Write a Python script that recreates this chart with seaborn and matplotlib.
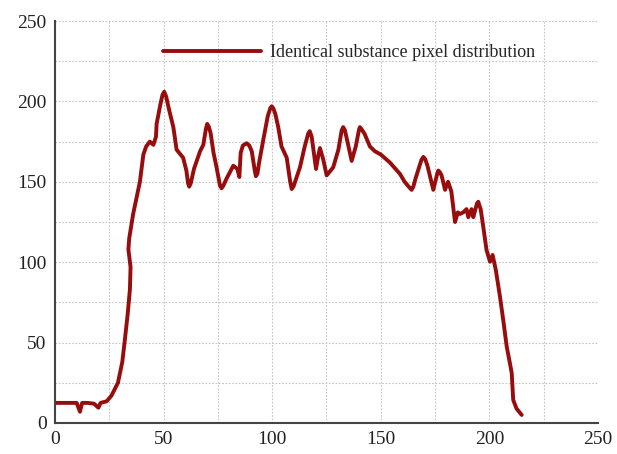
import matplotlib
matplotlib.use("Agg")
import matplotlib.pyplot as plt
import seaborn as sns
import pandas as pd
from matplotlib.ticker import MultipleLocator

x_vals = [0, 5, 10, 11.5, 12.5, 15, 18, 20, 21, 23.8, 26, 29, 31, 32.2, 33.5, 34.5, 34.8,
          33.8, 34.2, 36, 38, 39.1, 40.7, 42, 43.7, 45.3, 46.5, 46.8, 48.5, 49.5, 50.3, 51.2,
          52.5, 54.5, 56, 59, 60.5, 61.3, 61.8, 62.5, 64, 66.8, 68.3, 69.5, 70.1, 70.9, 71.7,
          73, 74.4, 76, 76.7, 77.5, 79, 82.1, 84, 84.9, 85.5, 86.5, 88.2, 89.5, 90.6, 92,
          92.5, 93.2, 94, 95.9, 98, 99.2, 99.8, 100.6, 101.5, 102.8, 104.3, 106.7, 108.3, 109,
          109.8, 112.8, 115, 116.6, 117.3, 118.2, 120.2, 121.2, 122, 123.5, 125.1, 128.1,
          130.5, 132, 132.7, 133.5, 134.5, 136.6, 138.5, 140, 140.4, 141, 142.5, 145, 147.3,
          150, 154.2, 158.8, 161, 163.5, 164.2, 165, 166, 168.7, 169.6, 170.5, 171.5, 174.2,
          176, 176.5, 177.2, 178, 179.6, 181, 182.5, 184.2, 185.5, 186.5, 188, 189.5,
          190.3, 191.8, 192.6, 194.3, 194.9, 196, 197.2, 198.7, 200.3, 201.5, 203, 204.9,
          206.5, 208, 209.5, 210.3, 211, 212.5, 214.9]
y_vals = [12.5, 12.5, 12.5, 7, 12.5, 12.5, 12, 9.5, 12.5, 13.5, 17, 25, 38, 52, 68, 83, 97,
          108, 115, 130, 143, 150, 167, 172, 175, 173, 178, 186, 198, 204, 206, 203,
          195, 184, 170, 165, 157, 149, 147, 149, 158, 169, 173, 183, 186, 184, 180,
          168, 159, 147.5, 146, 147.5, 152, 160, 158, 153, 168, 172.5, 174, 172.5, 169, 157,
          153.5, 155, 162, 176, 191, 196, 197, 195.5, 192, 184, 172, 165, 150, 145.5,
          147, 159, 172, 180, 181.5, 178, 158, 166, 171, 164, 154, 159,
          170, 182, 184, 182, 176, 163, 172, 182.5, 184, 183, 180, 172, 169,
          167, 162, 155, 150, 146, 145, 147, 152, 163.5, 165.5, 164, 160, 145,
          155, 157, 156, 154, 145, 150, 144, 125, 131, 130, 131, 133,
          128, 133, 128, 136.5, 137.6, 133, 122, 107.6, 100.3, 104.5, 95, 78.5,
          63, 47.5, 37, 31, 14.3, 9, 5]
series_name = "Identical substance pixel distribution"
x_ticks = [0, 50, 100, 150, 200, 250]
y_ticks = [0, 50, 100, 150, 200, 250]

df = pd.DataFrame({"x": x_vals, "y": y_vals, "s": series_name})

sns.set_style("white")
plt.rcParams["font.family"] = ["Liberation Serif", "DejaVu Serif"]

fig = plt.figure(figsize=(6.17, 4.54), dpi=100)
ax = fig.add_axes([0.0891, 0.0683, 0.88, 0.8854])

sns.lineplot(data=df, x="x", y="y", hue="s", palette=["#970c0c"], sort=False,
             estimator=None, linewidth=2.8, ax=ax)
for ln in ax.get_lines():
    ln.set_solid_joinstyle("round")
    ln.set_solid_capstyle("round")

ax.set_xlim(0, 250)
ax.set_ylim(0, 250)
ax.set_xticks(x_ticks)
ax.set_yticks(y_ticks)
ax.xaxis.set_minor_locator(MultipleLocator(25))
ax.yaxis.set_minor_locator(MultipleLocator(25))
ax.grid(True, which="both", color="#c4c4c4", linestyle=(0, (1.5, 1.5)), linewidth=0.8)
ax.set_axisbelow(True)
ax.tick_params(which="major", direction="in", length=5, width=1.2, color="#444444",
               labelsize=14, pad=6, labelcolor="#222222")
ax.tick_params(which="minor", length=0)
for s in ["top", "right"]:
    ax.spines[s].set_visible(False)
for s in ["left", "bottom"]:
    ax.spines[s].set_color("#444444")
    ax.spines[s].set_linewidth(1.5)
ax.set_xlabel("")
ax.set_ylabel("")

leg = ax.legend(loc="center left", bbox_to_anchor=(0.199, 0.921), frameon=False,
                fontsize=13, handlelength=5.4, handletextpad=0.55, borderpad=0,
                borderaxespad=0, title=None)
for line in leg.get_lines():
    line.set_linewidth(2.8)

fig.savefig("out.png", dpi=100)
